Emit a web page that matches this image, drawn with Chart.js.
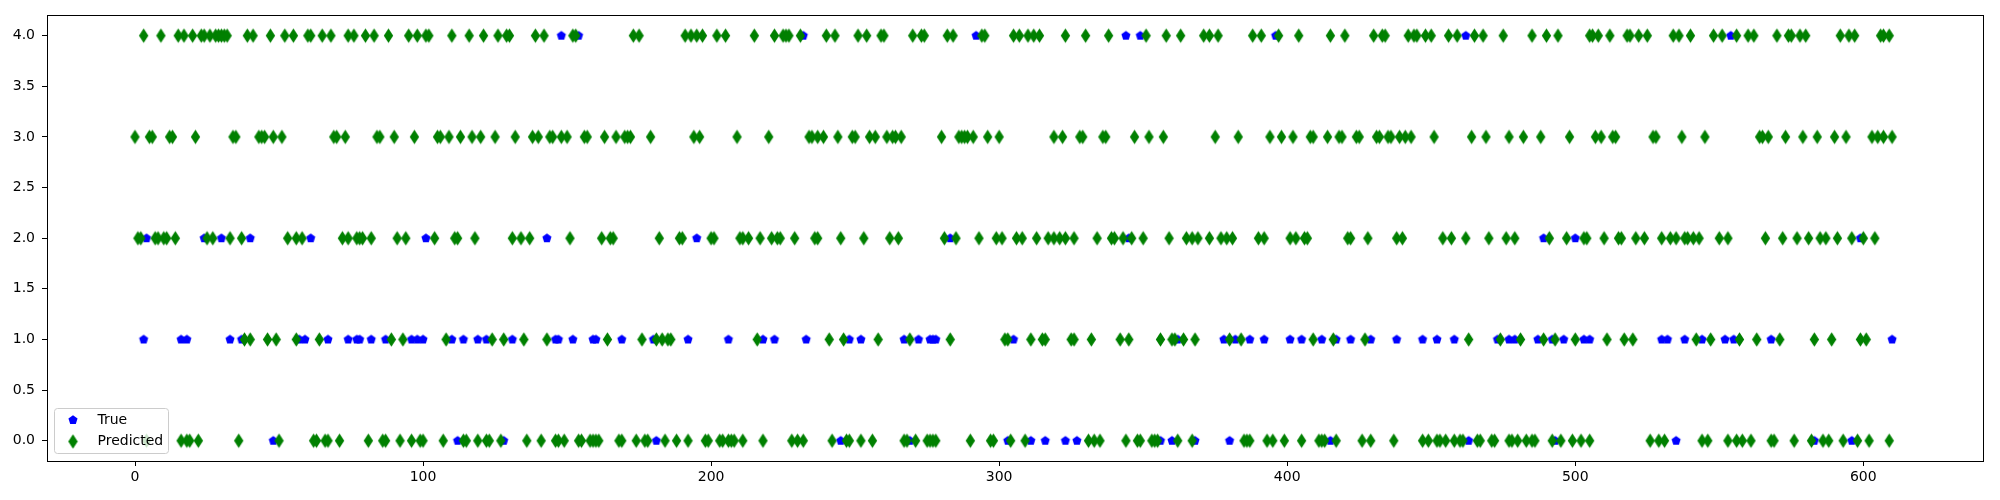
<!DOCTYPE html>
<html lang="en">
<head>
    <meta charset="UTF-8">
    <title>True vs Predicted</title>
    <script src="https://cdn.jsdelivr.net/npm/chart.js"></script>
    <style>
        body { margin: 0; background: #fff; }
    </style>
</head>
<body>
    <canvas id="scatterChart" width="2000" height="500"></canvas>

    <script>
        // sample indices, grouped by class
        const predClass0 = [4, 16, 18, 19, 22, 36, 50, 62, 63, 66, 67, 71, 81, 86, 87, 92, 96, 99, 100, 107, 114, 115, 119, 122, 123, 127, 136, 141, 146, 147, 149, 154, 155, 158, 159, 160, 161, 168, 169, 174, 177, 178, 184, 188, 192, 198, 199, 203, 204, 206, 207, 208, 211, 218, 228, 230, 232, 242, 247, 248, 252, 256, 267, 268, 271, 275, 276, 277, 278, 290, 297, 298, 304, 309, 331, 333, 335, 344, 348, 349, 353, 354, 355, 362, 367, 385, 386, 387, 393, 395, 399, 405, 411, 412, 413, 417, 426, 429, 437, 447, 449, 452, 453, 455, 458, 460, 461, 466, 467, 471, 472, 477, 478, 480, 483, 485, 486, 492, 495, 499, 502, 505, 526, 529, 531, 544, 546, 553, 556, 558, 561, 568, 569, 576, 582, 586, 588, 593, 598, 602, 609];
        const predClass1 = [38, 40, 46, 49, 56, 64, 89, 93, 108, 124, 128, 135, 143, 164, 176, 181, 183, 185, 186, 216, 241, 246, 258, 269, 283, 302, 303, 311, 315, 316, 325, 326, 332, 342, 345, 356, 360, 361, 364, 368, 380, 384, 409, 416, 427, 463, 474, 481, 489, 493, 500, 511, 517, 520, 542, 547, 557, 563, 571, 583, 589, 599, 601];
        const predClass2 = [1, 2, 7, 8, 10, 11, 14, 25, 27, 33, 37, 53, 56, 58, 72, 74, 77, 78, 79, 82, 91, 94, 104, 111, 112, 118, 131, 134, 137, 151, 162, 165, 166, 182, 189, 190, 200, 201, 210, 211, 213, 217, 221, 223, 224, 229, 236, 237, 245, 253, 262, 265, 281, 285, 293, 299, 301, 306, 308, 313, 317, 319, 321, 323, 326, 334, 339, 340, 343, 346, 350, 359, 365, 367, 369, 373, 377, 379, 381, 390, 392, 401, 403, 406, 407, 421, 422, 428, 438, 440, 454, 457, 462, 470, 476, 479, 491, 497, 503, 504, 510, 515, 516, 521, 524, 530, 533, 535, 538, 539, 541, 543, 550, 553, 566, 572, 577, 581, 585, 587, 591, 596, 600, 604];
        const predClass3 = [0, 5, 6, 12, 13, 21, 34, 35, 43, 44, 45, 48, 51, 69, 70, 73, 84, 85, 90, 97, 105, 106, 109, 113, 117, 120, 125, 132, 138, 140, 144, 145, 148, 150, 156, 157, 163, 167, 170, 171, 172, 179, 194, 196, 209, 220, 234, 235, 237, 239, 244, 249, 250, 255, 257, 261, 263, 264, 266, 280, 286, 287, 288, 289, 291, 296, 300, 319, 322, 328, 329, 336, 337, 347, 352, 357, 375, 383, 394, 398, 402, 408, 409, 414, 418, 419, 424, 425, 431, 432, 435, 436, 439, 441, 443, 451, 464, 469, 477, 482, 488, 498, 507, 509, 513, 514, 527, 528, 537, 545, 564, 565, 567, 573, 579, 584, 590, 594, 603, 605, 607, 610];
        const predClass4 = [3, 9, 15, 17, 20, 23, 24, 26, 28, 29, 30, 31, 32, 39, 41, 47, 52, 55, 60, 61, 65, 68, 74, 76, 80, 83, 88, 95, 98, 101, 102, 110, 116, 121, 126, 129, 130, 139, 142, 152, 153, 173, 175, 191, 193, 195, 197, 202, 205, 215, 222, 225, 226, 227, 231, 240, 243, 251, 254, 259, 260, 270, 273, 274, 282, 284, 294, 295, 305, 307, 310, 312, 314, 323, 330, 338, 351, 358, 363, 371, 373, 376, 388, 391, 397, 404, 415, 420, 430, 433, 434, 442, 444, 445, 448, 450, 456, 459, 465, 468, 475, 485, 490, 494, 505, 506, 508, 512, 518, 519, 522, 525, 534, 536, 540, 548, 551, 556, 560, 562, 570, 574, 575, 578, 580, 592, 595, 597, 606, 607, 609];

        // true labels that show (where they differ from the prediction)
        const trueClass0 = [48, 112, 128, 181, 245, 269, 303, 311, 316, 323, 327, 356, 360, 368, 380, 415, 463, 493, 535, 583, 596];
        const trueClass1 = [3, 16, 18, 33, 37, 57, 59, 67, 74, 77, 78, 82, 87, 96, 98, 100, 110, 114, 119, 122, 131, 146, 147, 152, 159, 160, 169, 180, 192, 206, 218, 222, 233, 248, 252, 267, 272, 276, 277, 278, 305, 362, 378, 382, 387, 392, 401, 405, 412, 417, 422, 429, 438, 447, 452, 458, 473, 477, 479, 487, 492, 496, 503, 505, 530, 532, 538, 544, 552, 555, 568, 610];
        const trueClass2 = [4, 24, 30, 40, 61, 101, 143, 195, 283, 345, 489, 500, 599];
        const trueClass3 = [];
        const trueClass4 = [148, 154, 232, 292, 344, 349, 396, 462, 554];

        const xTicks = [0, 100, 200, 300, 400, 500, 600];
        const yTicks = [0, 0.5, 1, 1.5, 2, 2.5, 3, 3.5, 4];

        const toPoints = lists => lists.flatMap((xs, cls) => xs.map(x => ({ x: x, y: cls })));

        function thinDiamond(color) {
            const c = document.createElement('canvas');
            c.width = 11; c.height = 17;
            const g = c.getContext('2d');
            g.fillStyle = color;
            g.beginPath();
            g.moveTo(5.5, 1.2);
            g.lineTo(10.2, 8.5);
            g.lineTo(5.5, 15.8);
            g.lineTo(0.8, 8.5);
            g.closePath();
            g.fill();
            return c;
        }

        function pentagon(color) {
            const c = document.createElement('canvas');
            c.width = 12; c.height = 12;
            const g = c.getContext('2d');
            g.fillStyle = color;
            g.beginPath();
            for (let k = 0; k < 5; k++) {
                const a = (-90 + k * 72) * Math.PI / 180;
                const px = 6 + 4.8 * Math.cos(a), py = 6 + 4.8 * Math.sin(a);
                if (k === 0) g.moveTo(px, py); else g.lineTo(px, py);
            }
            g.closePath();
            g.fill();
            return c;
        }

        const blueMark = pentagon('#0000ff');
        const greenMark = thinDiamond('#008000');

        const font = { family: '"DejaVu Sans", sans-serif', size: 14 };

        // frame on all four sides + legend box in the lower left corner
        const framePlugin = {
            id: 'frame',
            afterDatasetsDraw(chart) {
                const a = chart.chartArea;
                const ctx = chart.ctx;
                ctx.save();
                ctx.strokeStyle = '#000';
                ctx.lineWidth = 1;
                ctx.strokeRect(Math.round(a.left) + 0.5, Math.round(a.top) + 0.5,
                    Math.round(a.right - a.left), Math.round(a.bottom - a.top));
                ctx.restore();
            },
            afterDraw(chart) {
                const ctx = chart.ctx;
                ctx.save();
                const bx = 54.5, by = 408.5, bw = 114, bh = 45, r = 3;
                ctx.beginPath();
                ctx.roundRect(bx, by, bw, bh, r);
                ctx.fillStyle = 'rgba(255,255,255,0.8)';
                ctx.fill();
                ctx.strokeStyle = '#cccccc';
                ctx.lineWidth = 1;
                ctx.stroke();
                ctx.drawImage(blueMark, 73 - blueMark.width / 2, 420 - blueMark.height / 2);
                ctx.drawImage(greenMark, 73 - greenMark.width / 2, 441.5 - greenMark.height / 2);
                ctx.fillStyle = '#000';
                ctx.font = '14px "DejaVu Sans", sans-serif';
                ctx.textBaseline = 'middle';
                ctx.fillText('True', 97.5, 420);
                ctx.fillText('Predicted', 97.5, 441.5);
                ctx.restore();
            }
        };

        const ctx = document.getElementById('scatterChart').getContext('2d');
        const chart = new Chart(ctx, {
            type: 'scatter',
            data: {
                datasets: [
                    {
                        label: 'True',
                        data: toPoints([trueClass0, trueClass1, trueClass2, trueClass3, trueClass4]),
                        pointStyle: blueMark,
                        order: 2
                    },
                    {
                        label: 'Predicted',
                        data: toPoints([predClass0, predClass1, predClass2, predClass3, predClass4]),
                        pointStyle: greenMark,
                        order: 1
                    }
                ]
            },
            options: {
                responsive: false,
                animation: false,
                events: [],
                layout: { padding: { top: 15, right: 17, left: 0, bottom: 0 } },
                plugins: { legend: { display: false }, tooltip: { enabled: false } },
                scales: {
                    x: {
                        type: 'linear',
                        min: -30.55,
                        max: 641.55,
                        afterBuildTicks: s => { s.ticks = xTicks.map(v => ({ value: v })); },
                        afterFit: s => { s.height = 39; },
                        grid: { drawOnChartArea: false, drawTicks: true, tickLength: 5, tickColor: '#000' },
                        border: { display: true, color: '#000', width: 1 },
                        ticks: { color: '#000', font: font, padding: 3, maxRotation: 0 }
                    },
                    y: {
                        type: 'linear',
                        min: -0.2,
                        max: 4.2,
                        afterBuildTicks: s => { s.ticks = yTicks.map(v => ({ value: v })); },
                        afterFit: s => { s.width = 47; },
                        grid: { drawOnChartArea: false, drawTicks: true, tickLength: 5, tickColor: '#000' },
                        border: { display: true, color: '#000', width: 1 },
                        ticks: {
                            color: '#000', font: font, padding: 7,
                            callback: v => v.toFixed(1)
                        }
                    }
                }
            },
            plugins: [framePlugin]
        });
    </script>
</body>
</html>
